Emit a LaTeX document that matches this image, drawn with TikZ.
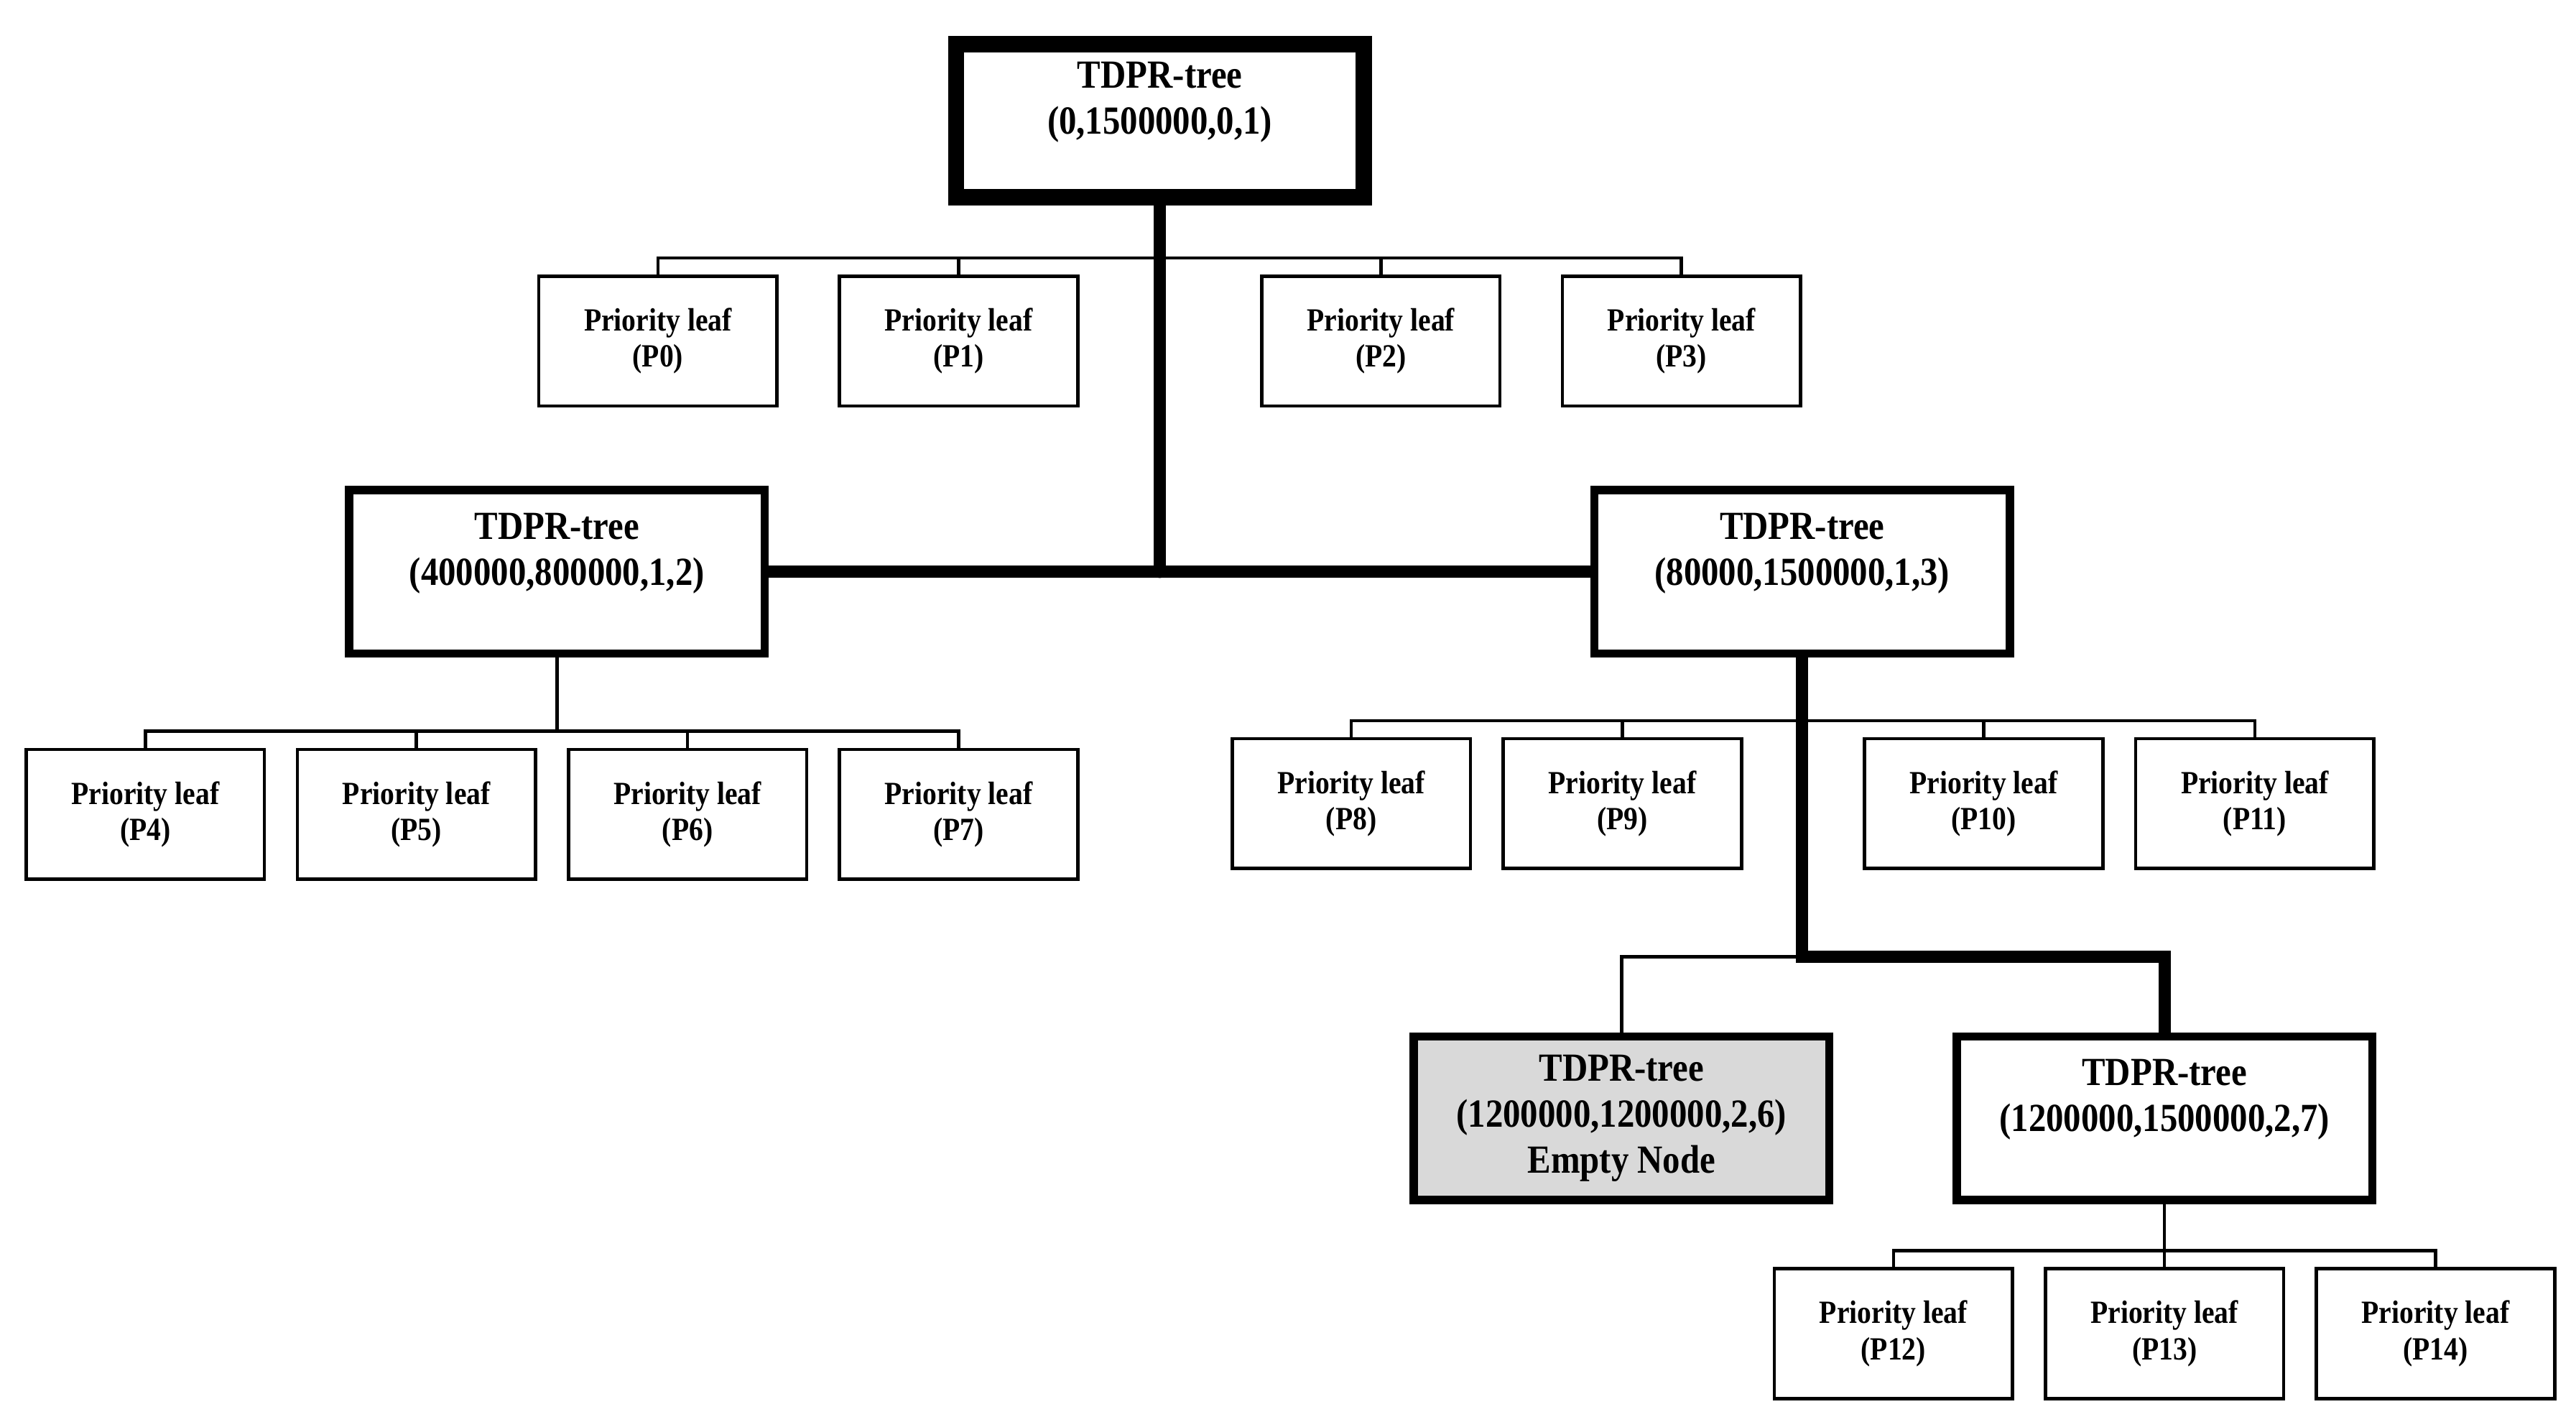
\documentclass[tikz,border=0pt]{standalone}
\usepackage{fontspec}
\setmainfont{Liberation Serif}[FakeStretch=0.88]
\usetikzlibrary{positioning}
\tikzstyle{sketch} = [x = 0.2mm, y = -0.2mm]
\definecolor{emptyColor}{RGB}{217,217,217}
\newcommand{\treeFont}{\bfseries\fontsize{13.8}{15.9}\selectfont}
\newcommand{\leafFont}{\bfseries\fontsize{11.2}{12.5}\selectfont}
\tikzstyle{treeStyle} = [draw, line width = 1mm, minimum width = 50.6mm, minimum height = 19.9mm, align = center, font = \treeFont, inner sep = 0pt]
\tikzstyle{rootStyle} = [treeStyle, line width = 2mm, minimum width = 49.6mm, minimum height = 18.6mm]
\tikzstyle{leafStyle} = [draw, line width = 0.4mm, minimum width = 29mm, minimum height = 15.8mm, align = center, font = \leafFont, inner sep = 0pt]
\tikzstyle{thinLine} = [line width = 0.4mm]
\tikzstyle{thickLine} = [line width = 1.5mm, line cap = round]
\newcommand{\priorityLeaf}[4]{\node [leafStyle] (#1) at (#2,#3) {Priority leaf\\(#4)};}
\newcommand{\leafBus}[3]{\draw [thinLine] (#1.north) -- ++(0,-10) coordinate (#3) -| (#2.north);}
\newcommand{\leafDrop}[2]{\draw [thinLine] (#1.north) -- (#1.north |- #2);}

\begin{document}
\begin{tikzpicture}[sketch]
  \useasboundingbox (0,0) rectangle (1568,862);
  % tree nodes
  \node [rootStyle] (root) at (706,73.5) {TDPR-tree\\(0,1500000,0,1)\\\mbox{}};
  \node [treeStyle] (left) at (339,348) {TDPR-tree\\(400000,800000,1,2)\\\mbox{}};
  \node [treeStyle] (right) at (1097,348) {TDPR-tree\\(80000,1500000,1,3)\\\mbox{}};
  \node [treeStyle, fill = emptyColor] (empty) at (987,680.5) {TDPR-tree\\(1200000,1200000,2,6)\\Empty Node};
  \node [treeStyle] (full) at (1317.5,680.5) {TDPR-tree\\(1200000,1500000,2,7)\\\mbox{}};

  % leaves
  \priorityLeaf{p0}{400.5}{207.5}{P0}
  \priorityLeaf{p1}{583.5}{207.5}{P1}
  \priorityLeaf{p2}{840.5}{207.5}{P2}
  \priorityLeaf{p3}{1023.5}{207.5}{P3}
  \priorityLeaf{p4}{88.5}{495.5}{P4}
  \priorityLeaf{p5}{253.5}{495.5}{P5}
  \priorityLeaf{p6}{418.5}{495.5}{P6}
  \priorityLeaf{p7}{583.5}{495.5}{P7}
  \priorityLeaf{p8}{822.5}{489}{P8}
  \priorityLeaf{p9}{987.5}{489}{P9}
  \priorityLeaf{p10}{1207.5}{489}{P10}
  \priorityLeaf{p11}{1372.5}{489}{P11}
  \priorityLeaf{p12}{1152.5}{811.5}{P12}
  \priorityLeaf{p13}{1317.5}{811.5}{P13}
  \priorityLeaf{p14}{1482.5}{811.5}{P14}

  % buses
  \leafBus{p0}{p3}{busTop}
  \leafDrop{p1}{busTop}
  \leafDrop{p2}{busTop}
  \leafBus{p4}{p7}{busLeft}
  \leafDrop{p5}{busLeft}
  \leafDrop{p6}{busLeft}
  \draw [thinLine] (left.south) -- (left.south |- busLeft);
  \leafBus{p8}{p11}{busRight}
  \leafDrop{p9}{busRight}
  \leafDrop{p10}{busRight}
  \leafBus{p12}{p14}{busLow}
  \leafDrop{p13}{busLow}
  \draw [thinLine] (full.south) -- (full.south |- busLow);

  % thick path
  \draw [thickLine] (root.south) -- (root.south |- left.east);
  \draw [thickLine] (left.east) -- (right.west);
  \draw [thickLine] (right.south) -- ++(0,182) coordinate (elbow) -| (full.north);
  \draw [thinLine] (elbow) -| (empty.north);
\end{tikzpicture}
\end{document}
